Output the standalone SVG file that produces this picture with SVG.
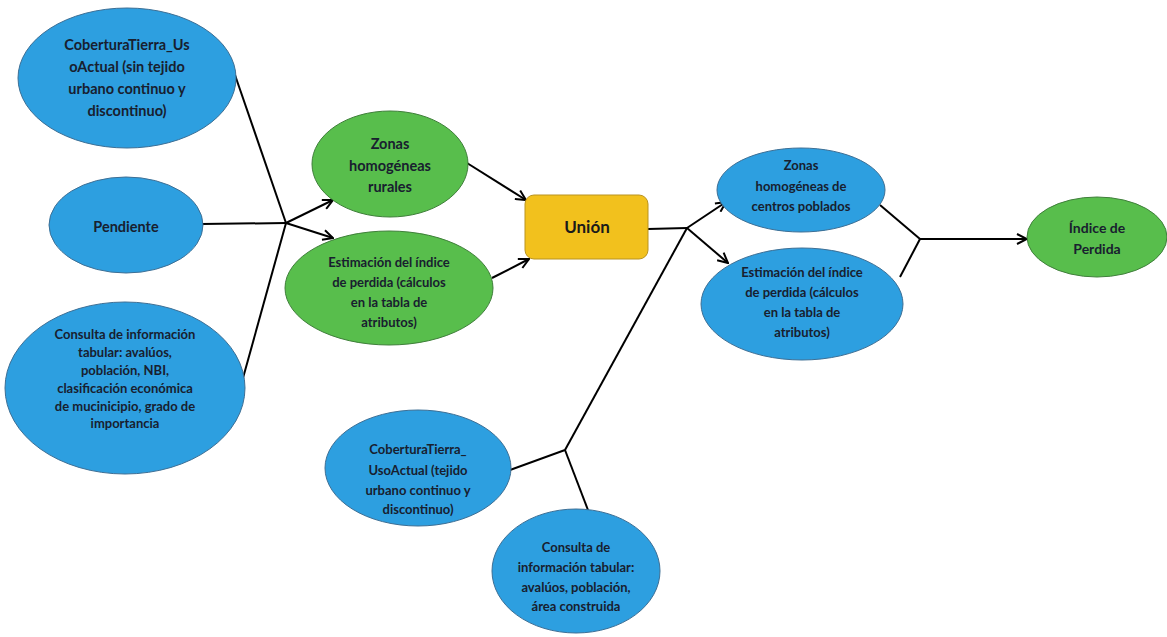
<svg xmlns="http://www.w3.org/2000/svg" width="1167" height="637" viewBox="0 0 1167 637">
<style>
.blue{fill:#2d9fe0;stroke:#3d6f95;stroke-width:1}
.green{fill:#58be4c;stroke:#3f7f3a;stroke-width:1}
.gold{fill:#f2c11d;stroke:#b99320;stroke-width:1}
.t{font-family:Lato,"Liberation Sans",sans-serif;font-weight:bold;font-size:14.5px;fill:#18202f;text-anchor:middle;dominant-baseline:central}
.s{font-size:13px}
.line{stroke:#000;stroke-width:2;fill:none}
.arr{marker-end:url(#ah)}
</style>
<defs>
<marker id="ah" viewBox="0 0 12 12" refX="11" refY="6" markerWidth="12" markerHeight="12" markerUnits="userSpaceOnUse" orient="auto">
<path d="M1,1 L11,6 L1,11" fill="none" stroke="#000" stroke-width="2"/>
</marker>
</defs>
<rect width="1167" height="637" fill="#fff"/>
<g id="connectors">
<line class="line" x1="235" y1="75" x2="286" y2="223"/>
<line class="line" x1="202" y1="224" x2="286" y2="223"/>
<line class="line" x1="243" y1="378" x2="286" y2="223"/>
<line class="line arr" x1="286" y1="223" x2="333" y2="200"/>
<line class="line arr" x1="286" y1="223" x2="333" y2="238"/>
<line class="line arr" x1="467" y1="163" x2="526" y2="200"/>
<line class="line arr" x1="492" y1="278" x2="529" y2="259"/>
<line class="line" x1="648" y1="229" x2="687" y2="228"/>
<line class="line arr" x1="687" y1="228" x2="726" y2="202"/>
<line class="line arr" x1="687" y1="228" x2="728" y2="263"/>
<line class="line" x1="565" y1="450" x2="687" y2="228"/>
<line class="line" x1="510" y1="470" x2="565" y2="450"/>
<line class="line" x1="565" y1="450" x2="588" y2="510"/>
<line class="line" x1="880" y1="205" x2="920" y2="239"/>
<line class="line" x1="900" y1="277" x2="920" y2="239"/>
<line class="line arr" x1="920" y1="239" x2="1027" y2="239"/>
</g>
<g id="n1">
<ellipse class="blue" cx="127" cy="78" rx="109" ry="70"/>
<text class="t"><tspan x="127" y="44">CoberturaTierra_Us</tspan><tspan x="127" y="66">oActual (sin tejido</tspan><tspan x="127" y="88">urbano continuo y</tspan><tspan x="127" y="110">discontinuo)</tspan></text>
</g>
<g id="n2">
<ellipse class="blue" cx="126" cy="225" rx="77" ry="48"/>
<text class="t" x="126" y="226">Pendiente</text>
</g>
<g id="n3">
<ellipse class="blue" cx="125" cy="388" rx="120" ry="86"/>
<text class="t s"><tspan x="125" y="334">Consulta de información</tspan><tspan x="125" y="352">tabular: avalúos,</tspan><tspan x="125" y="370">población, NBI,</tspan><tspan x="125" y="388">clasificación económica</tspan><tspan x="125" y="406">de mucinicipio, grado de</tspan><tspan x="125" y="423">importancia</tspan></text>
</g>
<g id="n4">
<ellipse class="green" cx="390" cy="164" rx="78" ry="53"/>
<text class="t"><tspan x="390" y="143">Zonas</tspan><tspan x="390" y="165">homogéneas</tspan><tspan x="390" y="186">rurales</tspan></text>
</g>
<g id="n5">
<ellipse class="green" cx="389" cy="288" rx="104" ry="57"/>
<text class="t s"><tspan x="389" y="262">Estimación del índice</tspan><tspan x="389" y="282">de perdida (cálculos</tspan><tspan x="389" y="302">en la tabla de</tspan><tspan x="389" y="322">atributos)</tspan></text>
</g>
<g id="n6">
<rect class="gold" x="525" y="195" width="123" height="64" rx="9"/>
<text class="t" x="587" y="226" style="font-size:17px;fill:#1a1a1a">Unión</text>
</g>
<g id="n7">
<ellipse class="blue" cx="801" cy="190" rx="84" ry="42"/>
<text class="t s"><tspan x="801" y="165">Zonas</tspan><tspan x="801" y="186">homogéneas de</tspan><tspan x="801" y="206">centros poblados</tspan></text>
</g>
<g id="n8">
<ellipse class="blue" cx="802" cy="304" rx="101" ry="56"/>
<text class="t s"><tspan x="802" y="272">Estimación del índice</tspan><tspan x="802" y="292">de perdida (cálculos</tspan><tspan x="802" y="312">en la tabla de</tspan><tspan x="802" y="332">atributos)</tspan></text>
</g>
<g id="n9">
<ellipse class="green" cx="1097" cy="237" rx="70" ry="40"/>
<text class="t" style="font-size:14px"><tspan x="1097" y="227">Índice de</tspan><tspan x="1097" y="248">Perdida</tspan></text>
</g>
<g id="n10">
<ellipse class="blue" cx="418" cy="468" rx="93" ry="58"/>
<text class="t s"><tspan x="418" y="449">CoberturaTierra_</tspan><tspan x="418" y="470">UsoActual (tejido</tspan><tspan x="418" y="490">urbano continuo y</tspan><tspan x="418" y="509">discontinuo)</tspan></text>
</g>
<g id="n11">
<ellipse class="blue" cx="576" cy="571" rx="84" ry="62"/>
<text class="t s"><tspan x="576" y="547">Consulta de</tspan><tspan x="576" y="567">información tabular:</tspan><tspan x="576" y="587">avalúos, población,</tspan><tspan x="576" y="606">área construida</tspan></text>
</g>
</svg>
